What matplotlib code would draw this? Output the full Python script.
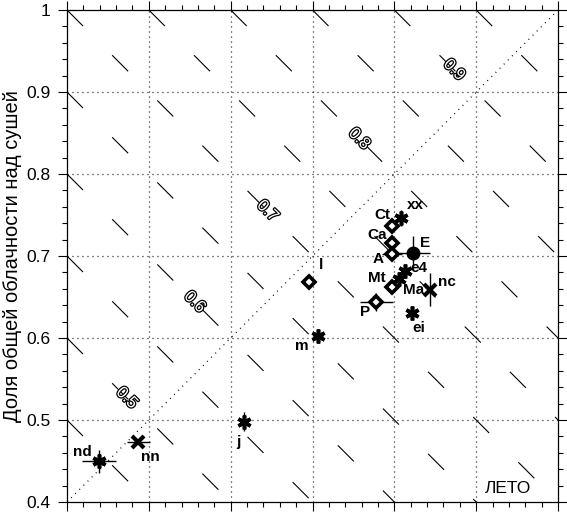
import matplotlib
matplotlib.use("Agg")
import matplotlib.pyplot as plt
import matplotlib.patheffects as pe
from matplotlib.ticker import MultipleLocator, FixedLocator, FixedFormatter

plt.rcParams['font.family'] = ['Liberation Sans', 'DejaVu Sans']
plt.rcParams['lines.scale_dashes'] = False

# cloud fraction: over ocean (x) and over land (y)
names = ["nd", "nn", "j", "m", "l", "Ct", "xx", "Ca", "A", "E", "e4", "Mt", "Ma", "nc", "P", "ei"]
ocean = [0.439, 0.487, 0.616, 0.707, 0.696, 0.797, 0.808, 0.797, 0.797, 0.823, 0.813, 0.797, 0.806, 0.844, 0.778, 0.822]
land = [0.450, 0.473, 0.498, 0.602, 0.668, 0.737, 0.746, 0.716, 0.702, 0.704, 0.682, 0.662, 0.672, 0.659, 0.644, 0.630]
ocean_err = [0.021, 0.014, 0.0, 0.006, 0.0, 0.0, 0.0, 0.008, 0.012, 0.02, 0.0, 0.0, 0.0, 0.0, 0.02, 0.0]
land_err = [0.014, 0.0, 0.012, 0.006, 0.0, 0.0, 0.01, 0.0, 0.0, 0.021, 0.0, 0.0, 0.0, 0.02, 0.011, 0.0]
kinds = ["ast", "x", "ast", "ast", "dia", "dia", "ast", "dia", "dia", "dot", "ast", "dia", "ast", "x", "dia", "ast"]
# label offsets (pixels right, pixels down)
label_dx = [-17, 12, -5, -16, 12, -10, 14, -15, -14, 12, 14, -15, 14, 17, -11, 6]
label_dy = [-9, 15, 20, 10, -17, -11, -13, -8, 5, -10, -3, -9, 11, -8, 10, 15]
label_text = ["nd", "nn", "j", "m", "l", "Ct", "xx", "Ca", "A", "E", "e4", "Mt", "Ma", "nc", "P", "ei"]

# isolines of mean (ocean+land)/2
iso_levels = [0.45, 0.5, 0.55, 0.6, 0.65, 0.7, 0.75, 0.8, 0.85, 0.9, 0.95]
iso_labels = [0.5, 0.6, 0.7, 0.8, 0.9]
iso_label_x = [0.473, 0.556, 0.645, 0.757, 0.873]

ticks = [0.4, 0.5, 0.6, 0.7, 0.8, 0.9, 1.0]
tick_labels = ["0.4", "0.5", "0.6", "0.7", "0.8", "0.9", "1"]

fig = plt.figure(figsize=(5.67, 5.13), dpi=100)
ax = fig.add_axes([0.1182, 0.0214, 0.8660, 0.9591])
ax.set_xlim(0.4, 1.0)
ax.set_ylim(0.4, 1.0)

# dashed isolines x + y = 2*level, drawn from top/left edge downwards
for lev in iso_levels:
    s = 2 * lev
    if s - 0.4 <= 1.0:
        x0, y0 = 0.4, s - 0.4
    else:
        x0, y0 = s - 1.0, 1.0
    if s - 0.4 <= 1.0:
        x1, y1 = s - 0.4, 0.4
    else:
        x1, y1 = 1.0, s - 1.0
    ax.plot([x0, x1], [y0, y1], color='black', lw=0.8,
            linestyle=(0, (16.3, 29.7)), zorder=1)

for lev, lx in zip(iso_labels, iso_label_x):
    ax.text(lx, 2 * lev - lx, str(lev), rotation=-45, fontsize=12,
            ha='center', va='center', color='white', zorder=2,
            path_effects=[pe.withStroke(linewidth=1.8, foreground='black')])

# dotted grid and diagonal
for t in ticks[1:-1]:
    ax.axvline(t, color='black', lw=0.9, linestyle=(0, (0.7, 2.9)), zorder=1)
    ax.axhline(t, color='black', lw=0.9, linestyle=(0, (0.7, 2.9)), zorder=1)
ax.plot([0.4, 1.0], [0.4, 1.0], color='black', lw=0.9,
        linestyle=(0, (0.7, 3.5)), zorder=1)

marker_styles = {
    "ast": dict(marker=(6, 2, 0), ms=10, mew=2.6, mfc='black', mec='black'),
    "x": dict(marker='x', ms=9, mew=3.0, mfc='black', mec='black'),
    "dia": dict(marker='D', ms=6, mew=2.6, mfc='white', mec='black'),
    "dot": dict(marker='o', ms=9, mew=1, mfc='black', mec='black'),
}

for i in range(len(names)):
    xe = ocean_err[i] if ocean_err[i] > 0 else None
    ye = land_err[i] if land_err[i] > 0 else None
    if xe is not None or ye is not None:
        ax.errorbar(ocean[i], land[i], xerr=xe, yerr=ye, fmt='none',
                    ecolor='black', elinewidth=1.0, capsize=0, zorder=3)
    ax.plot(ocean[i], land[i], linestyle='none', zorder=4, **marker_styles[kinds[i]])
    ax.annotate(label_text[i], (ocean[i], land[i]),
                xytext=(label_dx[i] * 0.72, -label_dy[i] * 0.72),
                textcoords='offset points', ha='center', va='center',
                fontsize=11, fontweight='bold', zorder=5)

ax.text(0.945, 0.012, "ЛЕТО", transform=ax.transAxes, ha='right', va='bottom',
        fontsize=12.5)

ax.xaxis.set_major_locator(FixedLocator(ticks))
ax.yaxis.set_major_locator(FixedLocator(ticks))
ax.yaxis.set_major_formatter(FixedFormatter(tick_labels))
ax.xaxis.set_minor_locator(MultipleLocator(0.02))
ax.yaxis.set_minor_locator(MultipleLocator(0.02))
ax.tick_params(which='both', direction='out', top=True, right=True,
               labelbottom=False, width=0.8, labelsize=12.5, pad=5.5)
ax.tick_params(which='major', length=6.5)
ax.tick_params(which='minor', length=3.6)
for sp in ax.spines.values():
    sp.set_linewidth(0.9)

fig.text(0.022, 0.501, "Доля общей облачности над сушей", rotation=90,
         ha='center', va='center', fontsize=14.5)

fig.savefig("out.png", dpi=100)
